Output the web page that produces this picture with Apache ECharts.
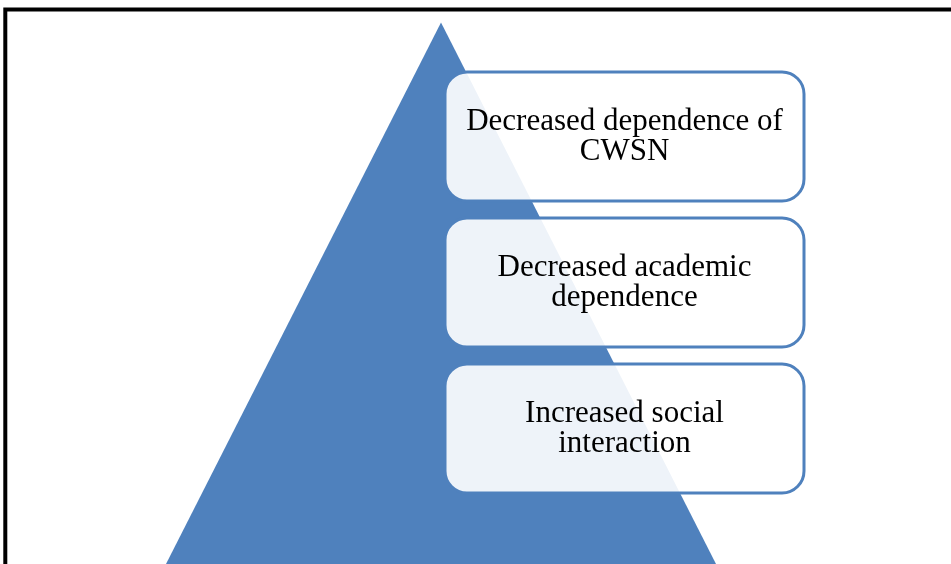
<!DOCTYPE html>
<html><head><meta charset="utf-8">
<script src="https://cdn.jsdelivr.net/npm/echarts@6/dist/echarts.min.js"></script>
<style>html,body{margin:0;padding:0;background:#fff}#c{width:951px;height:564px}</style>
</head><body><div id="c"></div>
<script>
// Diagram content (top to bottom)
const boxLabels = ['Decreased dependence of\nCWSN', 'Decreased academic\ndependence', 'Increased social\ninteraction'];
const pyramidLevels = [1];

// layout (in axis units = pixels of the 951x564 canvas)
const L = {
  apex: [441, 22.5], baseY: 564, baseHalf: 275,
  boxLeft: 445, boxRight: 804, boxTop: 72, boxH: 129, boxStep: 146, radius: 22
};
const BLUE = '#4F81BD';

const chart = echarts.init(document.getElementById('c'), null, {renderer: 'canvas'});
chart.setOption({
  animation: false,
  backgroundColor: '#fff',
  grid: {left: 0, right: 0, top: 0, bottom: 0},
  xAxis: {type: 'value', min: 0, max: 951, show: false},
  yAxis: {type: 'value', min: 0, max: 564, inverse: true, show: false},
  graphic: [{
    type: 'rect', z: 100,
    shape: {x: 5.3, y: 9.5, width: 1000, height: 600},
    style: {fill: 'none', stroke: '#000', lineWidth: 4}
  }],
  series: [
    {
      type: 'custom', name: 'pyramid', clip: false,
      data: pyramidLevels.map(v => [0, 0]),
      renderItem: function (params, api) {
        const a = api.coord(L.apex);
        const bl = api.coord([L.apex[0] - L.baseHalf, L.baseY]);
        const br = api.coord([L.apex[0] + L.baseHalf, L.baseY]);
        return {type: 'polygon', shape: {points: [a, br, bl]}, style: {fill: BLUE}};
      }
    },
    {
      type: 'custom', name: 'boxes', clip: false, z: 3,
      data: boxLabels.map((t, i) => ({value: [i, 0], name: t})),
      renderItem: function (params, api) {
        const i = api.value(0);
        const top = L.boxTop + i * L.boxStep;
        const p0 = api.coord([L.boxLeft, top]);
        const p1 = api.coord([L.boxRight, top + L.boxH]);
        return {
          type: 'rect',
          shape: {x: p0[0], y: p0[1], width: p1[0] - p0[0], height: p1[1] - p0[1], r: L.radius},
          style: {fill: 'rgba(255,255,255,0.9)', stroke: BLUE, lineWidth: 3},
          textContent: {
            style: {
              text: boxLabels[i],
              font: '31px "Liberation Serif", "DejaVu Serif", serif',
              fill: '#000', align: 'center', verticalAlign: 'middle', lineHeight: 30
            }
          },
          textConfig: {position: 'inside'}
        };
      }
    }
  ]
});
</script>
</body></html>
